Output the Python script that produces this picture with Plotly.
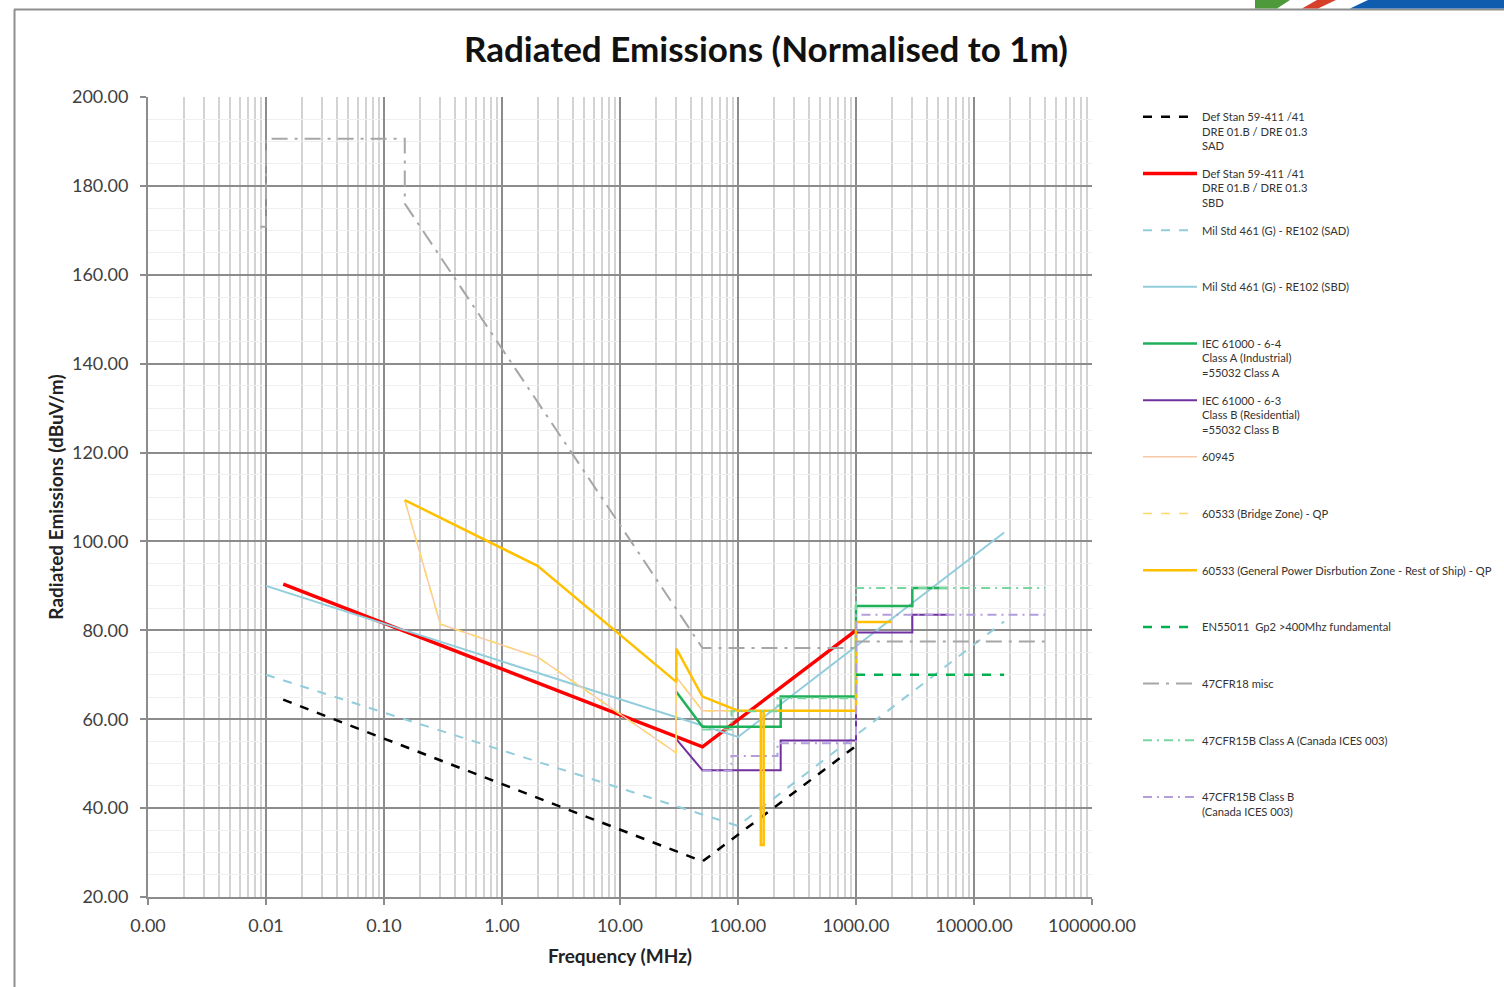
import plotly.graph_objects as go

# ---------------- data ----------------
# Frequencies in MHz, levels in dBuV/m (normalised to 1 m)
defstan_sad_f = [0.014, 50, 1000]
defstan_sad_v = [64.4, 28.0, 54.0]

defstan_sbd_f = [0.014, 50, 1000]
defstan_sbd_v = [90.4, 53.8, 80.0]

milstd_sad_f = [0.01, 100, 18000]
milstd_sad_v = [70.0, 36.0, 82.0]

milstd_sbd_f = [0.01, 100, 18000]
milstd_sbd_v = [90.0, 56.0, 102.0]

iec64_f = [30, 50, 230, 230, 1000, 1000, 3000, 3000, 6000]
iec64_v = [66.2, 58.3, 58.3, 65.1, 65.1, 85.5, 85.5, 89.5, 89.5]

iec63_f = [30, 50, 230, 230, 1000, 1000, 3000, 3000, 6000]
iec63_v = [55.5, 48.5, 48.5, 55.2, 55.2, 79.5, 79.5, 83.5, 83.5]

iec60945_f = [0.15, 0.3, 2, 30, 30, 50, 156, 156, 165, 165, 1000]
iec60945_v = [109.3, 81.4, 74.0, 52.4, 69.5, 61.9, 61.9, 31.7, 31.7, 61.9, 61.9]

bridge_f = [0.15, 0.3, 2, 30, 30, 50, 156, 156, 165, 165, 1000]
bridge_v = [109.3, 81.4, 74.0, 52.4, 69.5, 61.9, 61.9, 31.7, 31.7, 61.9, 61.9]

general_f = [0.15, 2, 30, 30, 50, 100, 156, 156, 165, 165, 1000, 1000, 2000]
general_v = [109.3, 94.5, 68.4, 75.9, 65.1, 61.9, 61.9, 31.7, 31.7, 61.9, 61.9, 81.9, 81.9]

en55011_f = [1000, 18000]
en55011_v = [70.0, 70.0]

cfr18_f = [0.009, 0.01, 0.01, 0.15, 0.15, 50, 1000, 1000, 40000]
cfr18_v = [170.8, 170.8, 190.6, 190.6, 176.0, 76.0, 76.0, 77.5, 77.5]

cfr15a_f = [50, 88, 88, 216, 216, 1000, 1000, 40000]
cfr15a_v = [57.7, 57.7, 61.8, 61.8, 64.7, 64.7, 89.5, 89.5]

cfr15b_f = [50, 88, 88, 216, 216, 1000, 1000, 40000]
cfr15b_v = [48.4, 48.4, 51.7, 51.7, 54.6, 54.6, 83.5, 83.5]

x_tick_vals = [0.001, 0.01, 0.1, 1, 10, 100, 1000, 10000, 100000]
x_tick_text = ["0.00", "0.01", "0.10", "1.00", "10.00", "100.00", "1000.00", "10000.00", "100000.00"]

# ---------------- figure ----------------
FONT = "Lato"
W, H = 1504, 987
L, R, T, B = 148, 412, 97, 90
PW, PH = W - L - R, H - T - B


def px_x(p):
    return (p - L) / PW


def px_y(p):
    return (H - B - p) / PH


def pad3(name):
    n = name.count("<br>")
    return name + "<br> " * (2 - n)


series = [
    ("Def Stan 59-411 /41<br>DRE 01.B / DRE 01.3<br>SAD", defstan_sad_f, defstan_sad_v,
     dict(color="#000000", width=2.5, dash="dash")),
    ("Def Stan 59-411 /41<br>DRE 01.B / DRE 01.3<br>SBD", defstan_sbd_f, defstan_sbd_v,
     dict(color="#FF0000", width=3.5)),
    ("Mil Std 461 (G) - RE102 (SAD)", milstd_sad_f, milstd_sad_v,
     dict(color="#92CDDC", width=2, dash="dash")),
    ("Mil Std 461 (G) - RE102 (SBD)", milstd_sbd_f, milstd_sbd_v,
     dict(color="#92CDDC", width=2)),
    ("IEC 61000 - 6-4<br>Class A (Industrial)<br>=55032 Class A", iec64_f, iec64_v,
     dict(color="#1FB05A", width=2.5)),
    ("IEC 61000 - 6-3<br>Class B (Residential)<br>=55032 Class B", iec63_f, iec63_v,
     dict(color="#7030A0", width=2)),
    ("60945", iec60945_f, iec60945_v,
     dict(color="#F8C9A6", width=1.5)),
    ("60533 (Bridge Zone) - QP", bridge_f, bridge_v,
     dict(color="#FFD966", width=1.5, dash="dash")),
    ("60533 (General Power Disrbution Zone - Rest of Ship) - QP", general_f, general_v,
     dict(color="#FFC000", width=2.5)),
    ("EN55011  Gp2 >400Mhz fundamental", en55011_f, en55011_v,
     dict(color="#00B050", width=2.5, dash="dash")),
    ("47CFR18 misc", cfr18_f, cfr18_v,
     dict(color="#A6A6A6", width=2, dash="16px,7px,3px,7px")),
    ("47CFR15B Class A (Canada ICES 003)", cfr15a_f, cfr15a_v,
     dict(color="#78D6A0", width=2, dash="9px,5px,2px,5px")),
    ("47CFR15B Class B<br>(Canada ICES 003)", cfr15b_f, cfr15b_v,
     dict(color="#B39DDB", width=2, dash="9px,5px,2px,5px")),
]

fig = go.Figure()
for i, (name, fx, fv, line) in enumerate(series):
    fig.add_trace(go.Scatter(
        x=fx, y=fv, mode="lines", name=pad3(name), line=line,
        legendgroup=f"g{i:02d}", showlegend=True, hoverinfo="skip",
    ))

MAJOR = "#8C8C8C"
fig.update_layout(
    width=W, height=H, autosize=False,
    margin=dict(l=L, r=R, t=T, b=B, pad=0, autoexpand=False),
    paper_bgcolor="white", plot_bgcolor="white",
    font=dict(family=FONT, color="#404040"),
    title=dict(
        text="Radiated Emissions (Normalised to 1m)",
        x=766 / W, xanchor="center", xref="container",
        y=1 - 50 / H, yanchor="middle", yref="container",
        font=dict(family=FONT, size=35, color="#111111", weight="bold"),
    ),
    showlegend=True,
    legend=dict(
        x=px_x(1138), y=px_y(103), xanchor="left", yanchor="top",
        font=dict(family=FONT, size=11.2, color="#333333"),
        tracegroupgap=10, valign="top", itemwidth=54,
        bgcolor="rgba(0,0,0,0)", borderwidth=0,
        traceorder="grouped", itemclick=False,
    ),
    xaxis=dict(
        type="log", range=[-3, 5],
        tickmode="array", tickvals=x_tick_vals, ticktext=x_tick_text,
        showgrid=True, gridcolor=MAJOR, gridwidth=2,
        ticks="outside", ticklen=6, tickcolor=MAJOR, tickwidth=1.5,
        minor=dict(dtick="D1", showgrid=True, gridcolor="#D3D3D3", gridwidth=1.5, ticks=""),
        showline=True, linecolor=MAJOR, linewidth=2, zeroline=False,
        ticklabelstandoff=5,
        tickfont=dict(family=FONT, size=18, color="#404040"),
        title=dict(text="Frequency (MHz)", standoff=15,
                   font=dict(family=FONT, size=19, color="#222222", weight="bold")),
    ),
    yaxis=dict(
        range=[20, 200], dtick=20, tick0=20, tickformat=".2f",
        showgrid=True, gridcolor=MAJOR, gridwidth=2,
        ticks="outside", ticklen=6, tickcolor=MAJOR, tickwidth=1.5,
        minor=dict(dtick=5, tick0=0, showgrid=True, gridcolor="#EFEFEF", gridwidth=1, ticks=""),
        showline=True, linecolor=MAJOR, linewidth=2, zeroline=False,
        ticklabelstandoff=8,
        tickfont=dict(family=FONT, size=18, color="#404040"),
        title=dict(text="Radiated Emissions (dBuV/m)", standoff=3,
                   font=dict(family=FONT, size=19, color="#222222", weight="bold")),
    ),
)

# outer frame of the slide picture
fig.add_shape(type="line", xref="paper", yref="paper",
              x0=px_x(14), x1=px_x(W + 5), y0=px_y(9.5), y1=px_y(9.5),
              line=dict(color="#8E8E8E", width=2))
fig.add_shape(type="line", xref="paper", yref="paper",
              x0=px_x(14.5), x1=px_x(14.5), y0=px_y(9.5), y1=px_y(H + 5),
              line=dict(color="#8E8E8E", width=2))


# logo fragment at the top right
def para(xt0, xt1, xb0, xb1, color):
    path = (f"M {px_x(xt0)} {px_y(0)} L {px_x(xt1)} {px_y(0)} "
            f"L {px_x(xb1)} {px_y(8.5)} L {px_x(xb0)} {px_y(8.5)} Z")
    fig.add_shape(type="path", xref="paper", yref="paper", path=path,
                  fillcolor=color, line=dict(width=0), layer="above")


para(1255, 1290, 1255, 1277, "#4E9A3A")
para(1317, 1336, 1302, 1318, "#D6402A")
para(1368, W + 2, 1350, W + 2, "#0F5CAE")

fig.write_html("out.html")
